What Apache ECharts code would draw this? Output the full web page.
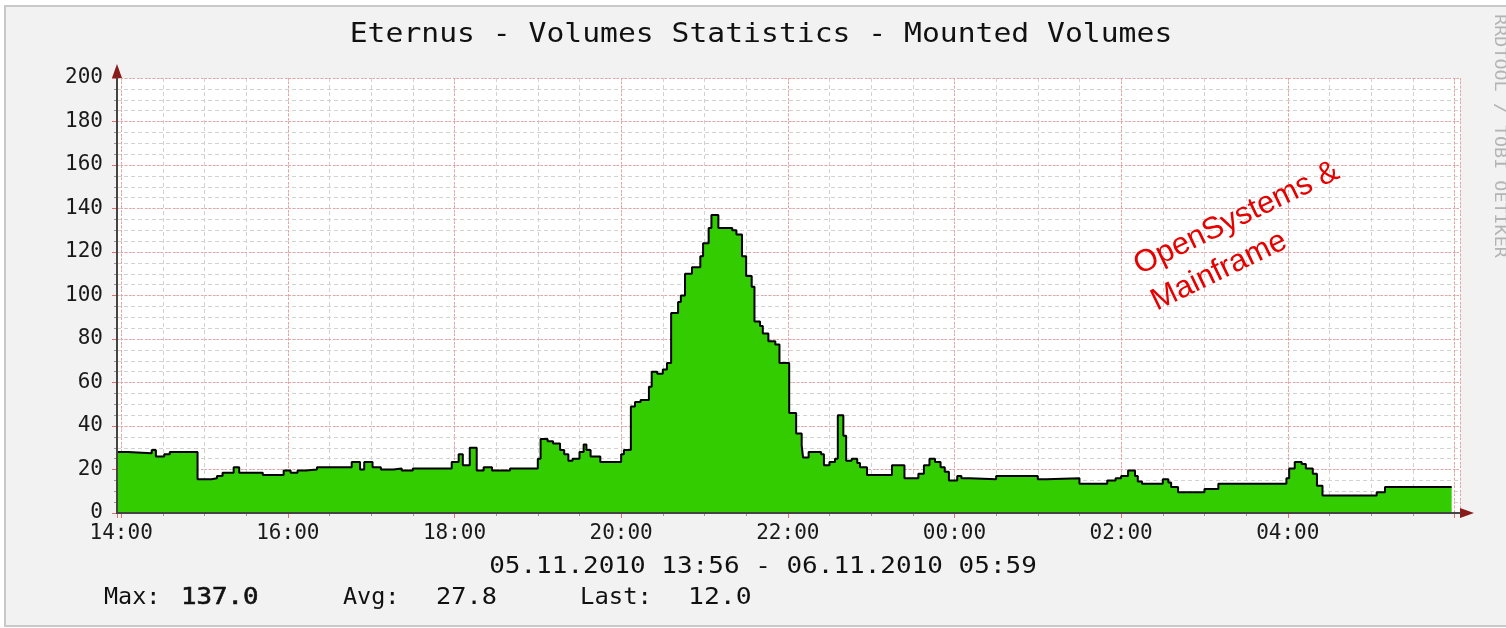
<!DOCTYPE html>
<html>
<head>
<meta charset="utf-8">
<title>Eternus - Volumes Statistics</title>
<script src="https://cdn.jsdelivr.net/npm/echarts@6/dist/echarts.min.js"></script>
<style>
  html, body { margin: 0; padding: 0; background: #fff; }
  #main { width: 1506px; height: 628px; }
</style>
</head>
<body>
<div id="main"></div>
<script>
// mounted volumes, one entry per change of value (step graph)
const times = [
  '13:57', '14:05', '14:22', '14:25', '14:31', '14:35', '14:55', '15:05', '15:09', '15:13',
  '15:21', '15:25', '15:42', '15:57', '16:02', '16:07', '16:13', '16:21', '16:46', '16:52',
  '16:55', '17:01', '17:07', '17:16', '17:22', '17:30', '17:58', '18:03', '18:06', '18:11',
  '18:16', '18:21', '18:27', '18:40', '19:00', '19:02', '19:07', '19:11', '19:16', '19:19',
  '19:22', '19:25', '19:30', '19:33', '19:35', '19:38', '19:45', '20:00', '20:02', '20:07',
  '20:10', '20:14', '20:20', '20:22', '20:26', '20:30', '20:33', '20:36', '20:41', '20:43',
  '20:46', '20:51', '20:57', '20:59', '21:03', '21:05', '21:10', '21:20', '21:23', '21:27',
  '21:30', '21:34', '21:36', '21:40', '21:42', '21:46', '21:51', '21:54', '22:01', '22:06',
  '22:10', '22:11', '22:15', '22:24', '22:26', '22:30', '22:34', '22:36', '22:40', '22:42',
  '22:46', '22:50', '22:52', '22:57', '23:15', '23:24', '23:34', '23:38', '23:42', '23:46',
  '23:50', '23:53', '23:56', '00:02', '00:05', '00:11', '00:30', '01:00', '01:06', '01:30',
  '01:50', '01:56', '02:00', '02:05', '02:10', '02:12', '02:15', '02:30', '02:34', '02:36',
  '02:41', '03:00', '03:10', '03:59', '04:01', '04:05', '04:10', '04:13', '04:18', '04:21',
  '04:25', '05:04', '05:10', '05:58'
];
const volumes = [
  28, 27.5, 29, 26, 27, 28, 15.5, 16, 17, 18.5,
  21, 18.5, 17.5, 19.5, 18.5, 19.5, 20, 21, 23.5, 20,
  23.5, 21, 20, 20.5, 19.5, 20.5, 23.5, 27, 22, 30,
  19.5, 21, 19.5, 20.5, 25, 34, 33, 32, 29, 27,
  24, 25, 28, 31.5, 29, 26, 23.5, 27, 29, 49,
  51, 52, 58, 65, 64, 66, 69, 92, 97, 100,
  110, 113, 118, 124, 131, 137, 131, 130, 128, 118,
  109, 104, 88, 86, 82.5, 79, 77.5, 69, 46, 36.5,
  31, 25.5, 28, 27, 22, 23.5, 25, 45, 35.5, 24,
  25, 23, 21, 17.5, 22, 16, 18, 22, 25, 23.5,
  21, 19, 15, 17, 16, 15.5, 17, 15.5, 16, 13.5,
  15, 16, 17, 19.5, 17, 14.5, 13.5, 15.5, 14, 12,
  9.5, 11, 13.5, 16, 20.5, 23.5, 22.5, 20.5, 18, 12.5,
  8, 9.5, 12, 12
];
const axisStart = '13:57';
const axisEnd = '06:04';
const lastLabel = '05:59';
const stats = { max: '137.0', avg: '27.8', last: '12.0' };
const period = '05.11.2010 13:56 - 06.11.2010 05:59';

// times before noon belong to the next day
function toTs(hhmm) {
  const [h, m] = hhmm.split(':').map(Number);
  return new Date(2010, 10, h < 12 ? 6 : 5, h, m).getTime();
}
function pad(n) { return (n < 10 ? '0' : '') + n; }

const HOUR = 3600 * 1000;
const MIN = 60 * 1000;
const mono = '"DejaVu Sans Mono", monospace';
const xMin = toTs(axisStart), xMax = toTs(axisEnd);
const seriesData = times.map((t, i) => [toTs(t), volumes[i]]);

// echarts picks the next lower "nice" step, so ask for a bit more than 2h / 30min
const majorStep = 2.5 * HOUR;
const minorStep = 31 * MIN;

const chart = echarts.init(document.getElementById('main'));

const hidden = { show: false };
chart.setOption({
  backgroundColor: '#ffffff',
  animation: false,
  grid: { left: 117, right: 46, top: 78, bottom: 115, show: true, backgroundColor: '#ffffff', borderWidth: 0 },
  xAxis: [
    {
      type: 'time', min: xMin, max: xMax, position: 'bottom', z: 3,
      minInterval: majorStep, maxInterval: majorStep,
      axisLine: { lineStyle: { color: '#444', width: 2 } },
      axisTick: hidden, splitLine: hidden,
      axisLabel: {
        margin: 10, fontFamily: mono, fontSize: 21, color: '#1a1a1a',
        formatter: function (v) {
          if (v > toTs(lastLabel)) return '';
          const d = new Date(v);
          return pad(d.getHours()) + ':' + pad(d.getMinutes());
        }
      }
    },
    {
      type: 'time', min: xMin, max: xMax, position: 'bottom', z: 1,
      minInterval: majorStep, maxInterval: majorStep,
      axisLine: { show: true, symbol: ['none', 'triangle'], symbolSize: [10, 14], symbolOffset: [0, 7], lineStyle: { color: '#8b1a1a', width: 1 } },
      axisTick: { show: true, length: 5, lineStyle: { color: '#e07070' } },
      axisLabel: hidden,
      splitLine: { show: true, lineStyle: { color: '#f0a0a0', width: 1, type: [2, 2] } }
    },
    {
      type: 'time', min: xMin, max: xMax, position: 'bottom', z: 0,
      minInterval: minorStep, maxInterval: minorStep,
      axisLine: hidden,
      axisTick: { show: true, length: 3, lineStyle: { color: '#999' } },
      axisLabel: hidden,
      splitLine: { show: true, lineStyle: { color: '#d2d2d2', width: 1, type: [4, 3] } }
    }
  ],
  yAxis: [
    {
      type: 'value', min: 0, max: 200, interval: 20, position: 'left', z: 3,
      axisLine: { show: true, lineStyle: { color: '#444', width: 2 } },
      axisTick: hidden, splitLine: hidden,
      axisLabel: { margin: 14, fontFamily: mono, fontSize: 21, color: '#1a1a1a' }
    },
    {
      type: 'value', min: 0, max: 200, interval: 20, position: 'left', z: 1,
      axisLine: { show: true, symbol: ['none', 'triangle'], symbolSize: [10, 14], symbolOffset: [0, 7], lineStyle: { color: '#8b1a1a', width: 1 } },
      axisTick: { show: true, length: 5, lineStyle: { color: '#e07070' } },
      axisLabel: hidden,
      splitLine: { show: true, lineStyle: { color: '#f0a0a0', width: 1, type: [2, 2] } }
    },
    {
      type: 'value', min: 0, max: 200, interval: 5, position: 'left', z: 0,
      axisLine: hidden,
      axisTick: { show: true, length: 3, lineStyle: { color: '#999' } },
      axisLabel: hidden,
      splitLine: { show: true, lineStyle: { color: '#d2d2d2', width: 1, type: [4, 3] } }
    }
  ],
  series: [{
    name: 'Mounted Volumes',
    type: 'line',
    step: 'end',
    xAxisIndex: 0,
    yAxisIndex: 0,
    z: 2,
    symbol: 'none',
    data: seriesData,
    lineStyle: { color: '#000', width: 2 },
    areaStyle: { color: '#33cc00', opacity: 1 }
  }],
  graphic: [
    { type: 'rect', z: -10, silent: true, shape: { x: 5, y: 6, width: 1520, height: 620 },
      style: { fill: '#f2f2f2', stroke: '#c8c8c8', lineWidth: 2 } },
    { type: 'text', z: 10, x: 761, y: 35, scaleX: 1.1,
      style: { text: 'Eternus - Volumes Statistics - Mounted Volumes', font: '27px ' + mono, fill: '#111', align: 'center', verticalAlign: 'middle' } },
    { type: 'text', z: 10, x: 763, y: 567, scaleX: 1.13,
      style: { text: period, font: '23px ' + mono, fill: '#111', align: 'center', verticalAlign: 'middle' } },
    { type: 'text', z: 10, x: 104, y: 598, scaleX: 1.02,
      style: { text: 'Max:', font: '23px ' + mono, fill: '#111', align: 'left', verticalAlign: 'middle' } },
    { type: 'text', z: 10, x: 181, y: 598, scaleX: 1.12,
      style: { text: stats.max, font: '23px ' + mono, fill: '#111', stroke: '#111', lineWidth: 0.6, align: 'left', verticalAlign: 'middle' } },
    { type: 'text', z: 10, x: 343, y: 598, scaleX: 1.02,
      style: { text: 'Avg:', font: '23px ' + mono, fill: '#111', align: 'left', verticalAlign: 'middle' } },
    { type: 'text', z: 10, x: 436, y: 598, scaleX: 1.1,
      style: { text: stats.avg, font: '23px ' + mono, fill: '#111', align: 'left', verticalAlign: 'middle' } },
    { type: 'text', z: 10, x: 580, y: 598, scaleX: 1.04,
      style: { text: 'Last:', font: '23px ' + mono, fill: '#111', align: 'left', verticalAlign: 'middle' } },
    { type: 'text', z: 10, x: 688, y: 598, scaleX: 1.15,
      style: { text: stats.last, font: '23px ' + mono, fill: '#111', align: 'left', verticalAlign: 'middle' } },
    // rrdtool watermark on the right edge
    { type: 'text', z: 10, x: 1499, y: 136, rotation: -Math.PI / 2, scaleX: 1.15,
      style: { text: 'RRDTOOL / TOBI OETIKER', font: '16px ' + mono, fill: '#b4b4b4', align: 'center', verticalAlign: 'middle' } },
    // red annotation
    { type: 'text', z: 10, x: 1127, y: 249, rotation: 0.45,
      style: { text: 'OpenSystems &\nMainframe', font: '31px "Liberation Sans", Arial, sans-serif', fill: '#e60000', align: 'left', verticalAlign: 'top', lineHeight: 40 } }
  ]
});
</script>
</body>
</html>
